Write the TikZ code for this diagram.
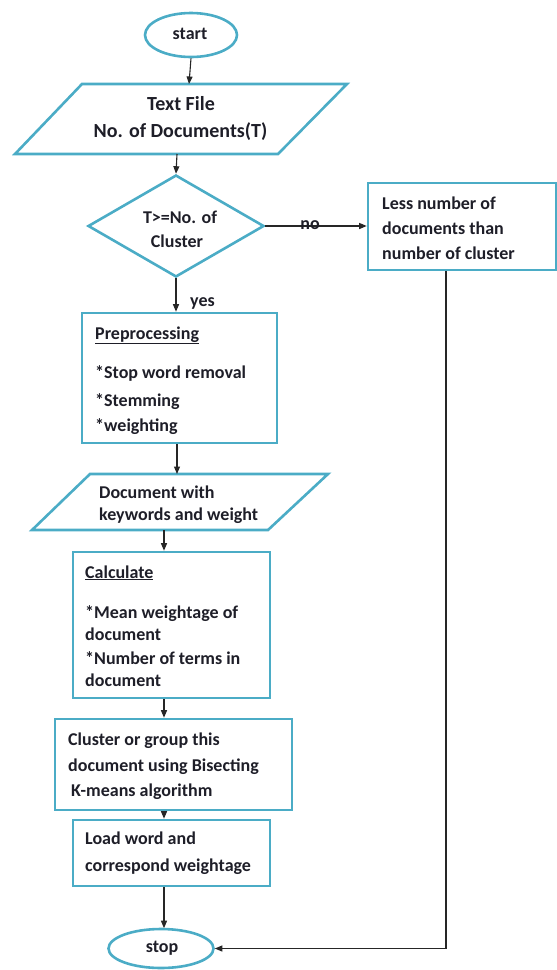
\documentclass[tikz,border=0pt]{standalone}
\usepackage{fontspec}
\setmainfont{Carlito}
\usetikzlibrary{arrows.meta,shapes.geometric,calc}
\definecolor{bordercol}{HTML}{4BACC6}
\definecolor{textcol}{HTML}{1E1E28}
\begin{document}
\begin{tikzpicture}[x=1pt,y=-1pt,
  shapeline/.style={draw=bordercol, line width=2.6pt},
  box/.style={shapeline, rectangle, inner sep=0pt, fill=white},
  txt/.style={font=\bfseries\fontsize{18}{21}\selectfont, text=textcol, inner sep=0pt},
  bigtxt/.style={font=\bfseries\fontsize{20}{23}\selectfont, text=textcol, inner sep=0pt, anchor=base},
  lefttxt/.style={txt, anchor=base west},
  midtxt/.style={txt, anchor=base},
  arr/.style={-{Triangle[length=7.5pt,width=6pt]}, line width=1.1pt, draw=black!85},
  plainline/.style={line width=1.1pt, draw=black!85}
]
\useasboundingbox (0,0) rectangle (557,970);

% column coordinates
\coordinate (cA) at (177,0);
\coordinate (cB) at (164,0);
\coordinate (cR) at (446,0);

% start
\node[shapeline, ellipse, minimum width=92pt, minimum height=44pt, inner sep=0pt] (start) at (191,35) {};
\node[txt] (starttxt) at (190,34) {start};

% parallelogram 1
\draw[shapeline] (82,84) -- (347,84) -- (278,154) -- (15,154) -- cycle;
\coordinate (p1t) at (189,84);
\coordinate (p1b) at (177,154);
\node[bigtxt] (p1a) at (181,110) {Text File};
\node[bigtxt] (p1c) at (180.5,137) {No. of Documents(T)};

% decision
\node[shapeline, diamond, minimum width=176pt, minimum height=102pt, inner sep=0pt] (dia) at (176,226) {};
\node[midtxt] (diaa) at (180,223) {T>=No. of};
\node[midtxt] (diab) at (177,247) {Cluster};

% right box
\node[box, minimum width=188pt, minimum height=87pt] (less) at (462,226.5) {};
\node[lefttxt] (lessa) at (382,209) {Less number of};
\node[lefttxt] (lessb) at (382,234) {documents than};
\node[lefttxt] (lessc) at (382,259) {number of cluster};

% preprocessing
\node[box, minimum width=195pt, minimum height=130pt] (pre) at (179.5,378) {};
\node[lefttxt] (prea) at (95,339) {\underline{Preprocessing}};
\node[lefttxt] (preb) at (95,378) {*Stop word removal};
\node[lefttxt] (prec) at (95,406) {*Stemming};
\node[lefttxt] (pred) at (95,431) {*weighting};

% parallelogram 2
\draw[shapeline] (90,474) -- (328,474) -- (268,530) -- (32,530) -- cycle;
\coordinate (p2t) at (177,474);
\coordinate (p2b) at (164,530);
\node[lefttxt] (p2a) at (99,498) {Document with};
\node[lefttxt] (p2c) at (99,520) {keywords and weight};

% calculate
\node[box, minimum width=197pt, minimum height=146pt] (calc) at (171.5,625) {};
\node[lefttxt] (calca) at (85,578) {\underline{Calculate}};
\node[lefttxt] (calcb) at (85,618) {*Mean weightage of};
\node[lefttxt] (calcc) at (85,640) {document};
\node[lefttxt] (calcd) at (85,664) {*Number of terms in};
\node[lefttxt] (calce) at (85,686) {document};

% cluster
\node[box, minimum width=237pt, minimum height=91pt] (clus) at (173.5,764.5) {};
\node[lefttxt] (clusa) at (68,745) {Cluster or group this};
\node[lefttxt] (clusb) at (68,771) {document using Bisecting};
\node[lefttxt] (clusc) at (71,796) {K-means algorithm};

% load
\node[box, minimum width=197pt, minimum height=66pt] (load) at (171.5,853) {};
\node[lefttxt] (loada) at (85,844) {Load word and};
\node[lefttxt] (loadb) at (85,871) {correspond weightage};

% stop
\node[shapeline, ellipse, minimum width=105pt, minimum height=39pt, inner sep=0pt] (stop) at (161,948.5) {};
\node[txt] (stoptxt) at (162,948) {stop};

% connectors
\draw[arr] (start.south) -- (p1t);
\draw[arr] (p1b) -- (dia.north);
\draw[arr] (dia.east) -- (less.west |- dia.east);
\node[txt] (nolab) at (310,225) {no};
\draw[arr] (dia.south) -- (pre.north -| dia.south);
\node[lefttxt] (yeslab) at (190,306) {yes};
\draw[arr] (pre.south -| cA) -- (p2t);
\draw[arr] (p2b) -- (calc.north -| cB);
\draw[arr] (calc.south -| cB) -- (clus.north -| cB);
\draw[arr] (clus.south -| cB) -- (load.north -| cB);
\draw[arr] (load.south -| cB) -- ($(stop.north -| cB)+(0,0.5)$);
\draw[arr] (less.south -| cR) |- (stop.east);
\end{tikzpicture}
\end{document}
